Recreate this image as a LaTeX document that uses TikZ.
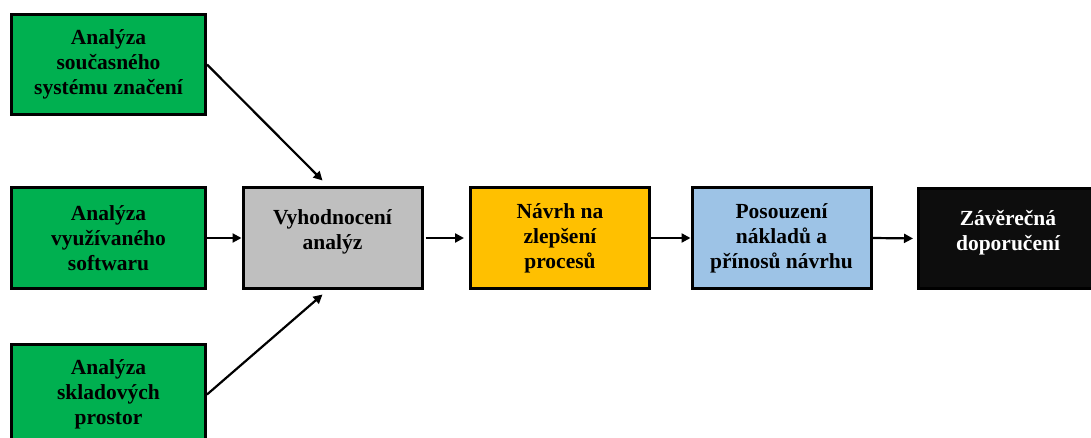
\documentclass[tikz,border=0pt]{standalone}
\usepackage{fontspec}
\setmainfont{Liberation Serif}
\usetikzlibrary{arrows.meta}
\definecolor{boxgreen}{HTML}{00B050}
\definecolor{boxgray}{HTML}{BFBFBF}
\definecolor{boxorange}{HTML}{FFC000}
\definecolor{boxblue}{HTML}{9DC3E6}
\definecolor{boxblack}{HTML}{0D0D0D}
\tikzset{
  stage/.style={draw=black, line width=3pt, inner sep=0pt, align=center,
    minimum height=100pt, font=\bfseries\fontsize{21.5}{25}\selectfont},
  inbox/.style={stage, fill=boxgreen, minimum width=194pt},
  flowbox/.style={stage, minimum width=179pt},
  twoline/.style={font=\bfseries\fontsize{21.5}{25}\selectfont, align=center, inner sep=0pt},
  flow/.style={line width=2.2pt, -{Triangle[length=9pt,width=9pt]}}
}
\begin{document}
\begin{tikzpicture}[x=1pt,y=-1pt]
  \useasboundingbox (0,0) rectangle (1091,438);
  \clip (0,0) rectangle (1091,438);
  \fill[white] (0,0) rectangle (1091,438);

  % input analyses
  \node[inbox] (b1) at (108.5,64.5) {Analýza\\současného\\systému značení};
  \node[inbox] (b2) at (108.5,238) {Analýza\\využívaného\\softwaru};
  \node[inbox] (b3) at (108.5,394.5) {Analýza\\skladových\\prostor};

  % main process chain
  \node[flowbox, fill=boxgray] (eval) at (332.5,238) {};
  \node[twoline] (evaltext) at (332.5,232) {Vyhodnocení\\analýz};
  \node[flowbox, fill=boxorange] (prop) at (560,238) {Návrh na\\zlepšení\\procesů};
  \node[flowbox, fill=boxblue] (cost) at (781.5,238) {Posouzení\\nákladů a\\přínosů návrhu};
  \node[flowbox, fill=boxblack] (final) at (1008,238.5) {};
  \node[twoline, text=white] (finaltext) at (1008,233) {Závěrečná\\doporučení};

  % connectors
  \draw[flow] (b1.east) -- ([xshift=-10pt,yshift=6pt]eval.north);
  \draw[flow] (b3.east) -- ([xshift=-10pt,yshift=-5pt]eval.south);
  \draw[flow] (b2.east) -- (eval.west);
  \draw[flow, shorten <=2pt, shorten >=5pt] (eval.east) -- (prop.west);
  \draw[flow] (prop.east) -- (cost.west);
  \draw[flow, shorten >=4pt] (cost.east) -- (final.west);
\end{tikzpicture}
\end{document}
